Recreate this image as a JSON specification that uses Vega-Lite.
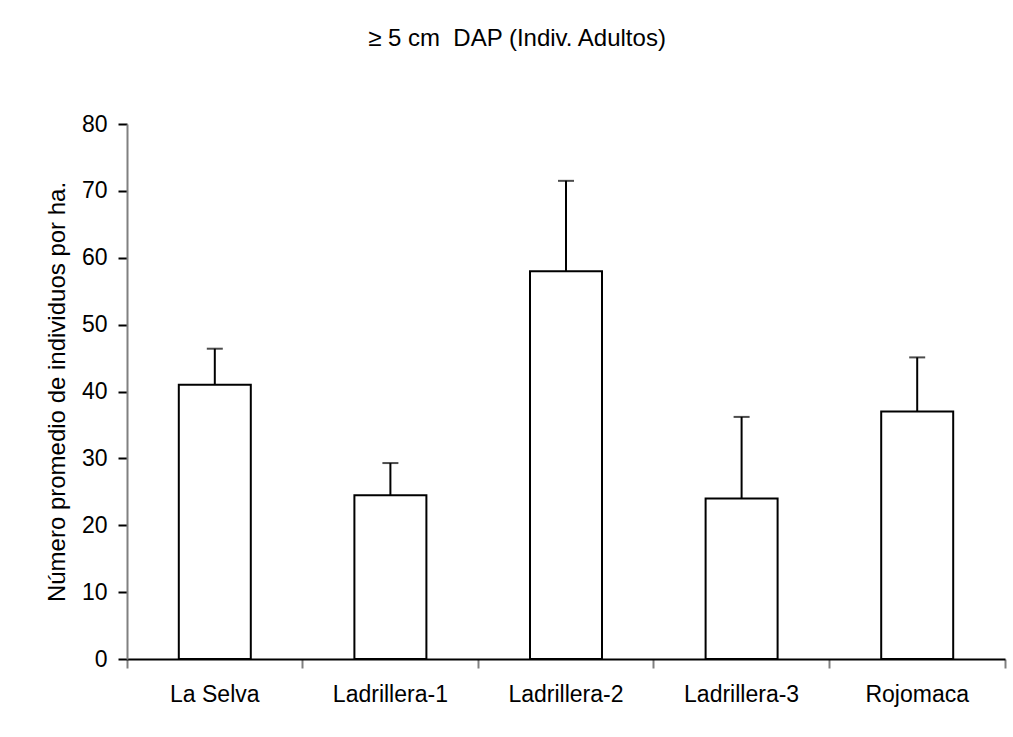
{
  "$schema": "https://vega.github.io/schema/vega-lite/v6.json",
  "width": 878,
  "height": 535,
  "autosize": {"type": "none"},
  "padding": {"left": 127, "top": 124, "right": 8, "bottom": 78},
  "background": "white",
  "title": {
    "text": "≥ 5 cm\u00a0 DAP (Indiv. Adultos)",
    "font": "Liberation Sans",
    "fontSize": 24,
    "fontWeight": "normal",
    "color": "black",
    "anchor": "middle",
    "dx": -49,
    "offset": 62
  },
  "data": {
    "values": [
      {"site": "La Selva", "mean": 41, "upper": 46.4},
      {"site": "Ladrillera-1", "mean": 24.5, "upper": 29.3},
      {"site": "Ladrillera-2", "mean": 58, "upper": 71.5},
      {"site": "Ladrillera-3", "mean": 24, "upper": 36.2},
      {"site": "Rojomaca", "mean": 37, "upper": 45.1}
    ]
  },
  "encoding": {
    "x": {
      "field": "site",
      "type": "nominal",
      "sort": null,
      "scale": {"paddingInner": 0, "paddingOuter": 0},
      "axis": {
        "title": null,
        "labelAngle": 0,
        "labelFont": "Liberation Sans",
        "labelFontSize": 23,
        "labelColor": "black",
        "labelPadding": 15,
        "bandPosition": 1,
        "tickExtra": true,
        "tickSize": 9,
        "tickWidth": 2,
        "tickColor": "#808080",
        "domainColor": "black",
        "domainWidth": 2
      }
    }
  },
  "layer": [
    {
      "mark": {"type": "bar", "fill": "white", "stroke": "black", "strokeWidth": 2, "width": {"band": 0.41}},
      "encoding": {
        "y": {
          "field": "mean",
          "type": "quantitative",
          "scale": {"domain": [0, 80], "nice": false},
          "axis": {
            "values": [0, 10, 20, 30, 40, 50, 60, 70, 80],
            "grid": false,
            "title": "Número promedio de individuos por ha.",
            "titleFont": "Liberation Sans",
            "titleFontSize": 24,
            "titleFontWeight": "normal",
            "titleColor": "black",
            "titlePadding": 12,
            "labelFont": "Liberation Sans",
            "labelFontSize": 23,
            "labelColor": "black",
            "labelPadding": 11,
            "tickSize": 9,
            "tickWidth": 2,
            "tickColor": "black",
            "domainColor": "#808080",
            "domainWidth": 2
          }
        }
      }
    },
    {
      "mark": {"type": "rule", "stroke": "black", "strokeWidth": 2},
      "encoding": {
        "y": {"field": "mean", "type": "quantitative"},
        "y2": {"field": "upper"}
      }
    },
    {
      "mark": {"type": "tick", "color": "black", "size": 16, "thickness": 2},
      "encoding": {
        "y": {"field": "upper", "type": "quantitative"}
      }
    }
  ],
  "config": {
    "view": {"stroke": null}
  }
}
